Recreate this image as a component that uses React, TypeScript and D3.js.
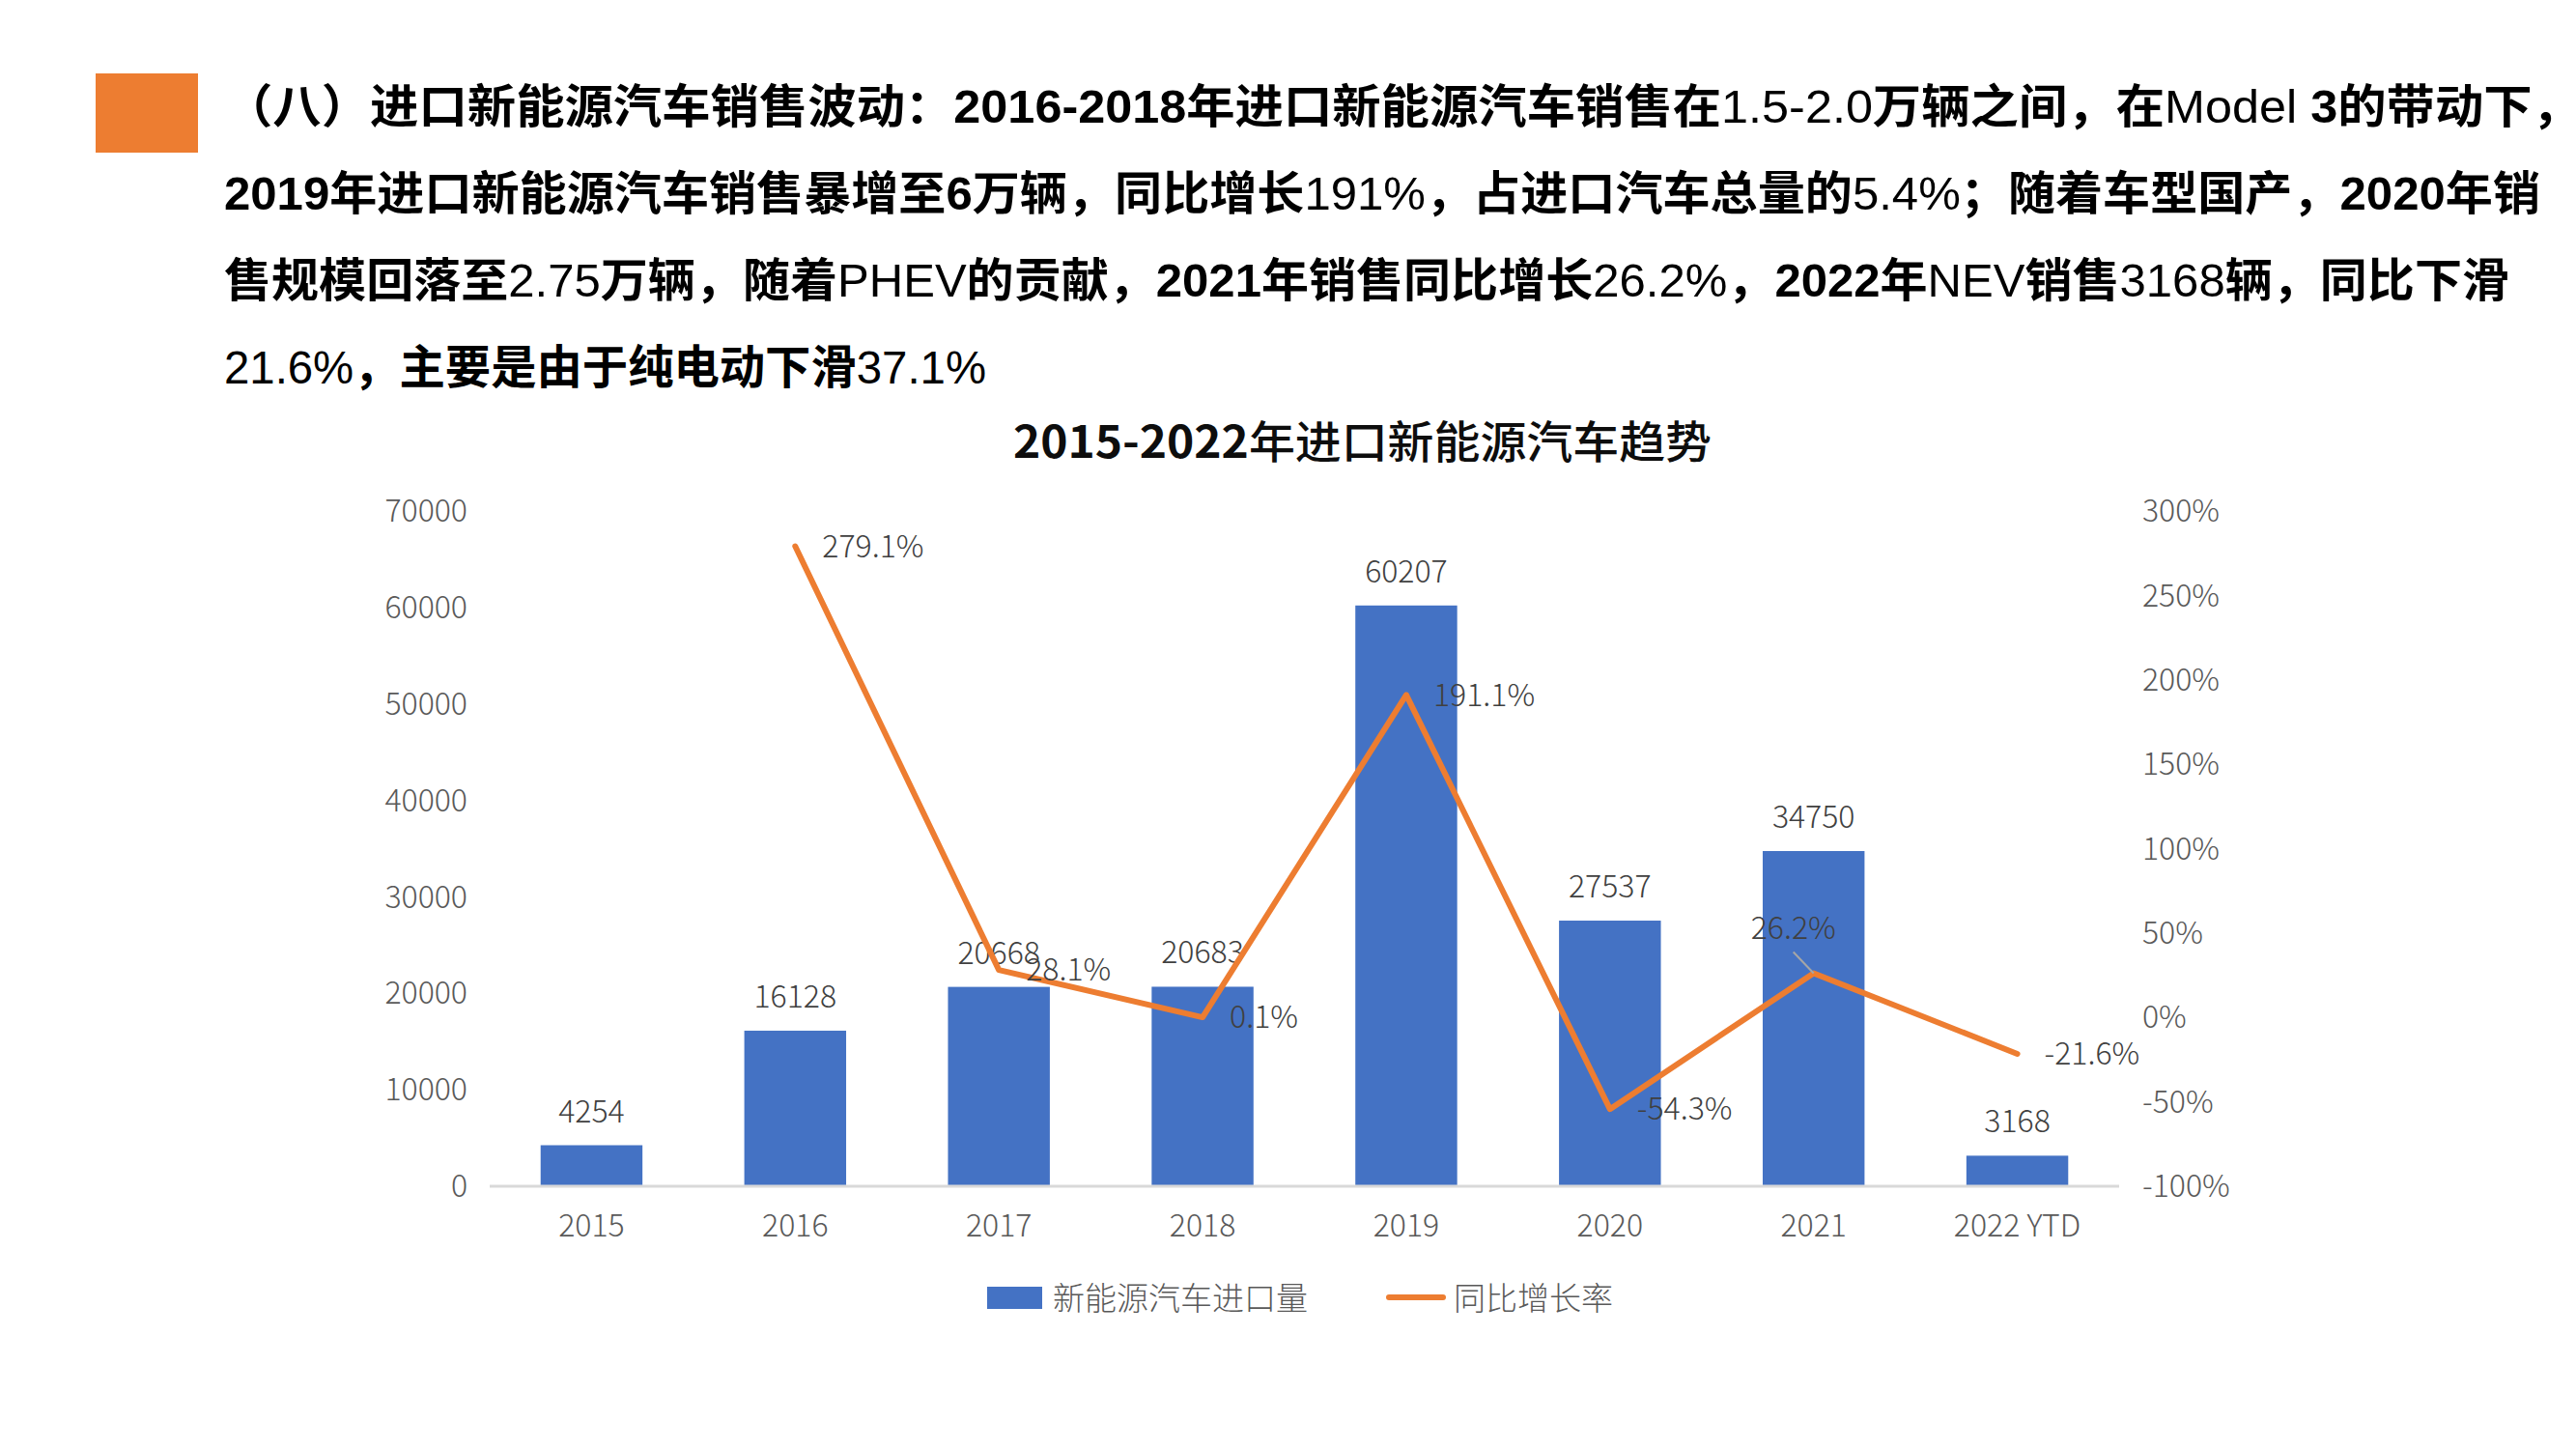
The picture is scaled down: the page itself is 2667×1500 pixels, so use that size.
import React from "react";
import * as d3 from "d3";

// chart data
const categories = ["2015", "2016", "2017", "2018", "2019", "2020", "2021", "2022 YTD"];
const importVolume = [4254, 16128, 20668, 20683, 60207, 27537, 34750, 3168];
const growthRate = [null, 2.791, 0.281, 0.001, 1.911, -0.543, 0.262, -0.216];
const leftTicks = [0, 10000, 20000, 30000, 40000, 50000, 60000, 70000];
const rightTicks = [-1, -0.5, 0, 0.5, 1, 1.5, 2, 2.5, 3];

const seriesNames = ["新能源汽车进口量", "同比增长率"];
const chartTitle = ["2015-2022", "年进口新能源汽车趋势"];

// header paragraph, [text, bold]
const bodyLines: [string, boolean][][] = [
  [["（八）进口新能源汽车销售波动：", true], ["2016-2018", true], ["年进口新能源汽车销售在", true], ["1.5-2.0", false], ["万辆之间，在", true], ["Model ", false], ["3", true], ["的带动下，", true]],
  [["2019年进口新能源汽车销售暴增至6万辆，同比增长", true], ["191%", false], ["，占进口汽车总量的", true], ["5.4%", false], ["；随着车型国产，2020年销", true]],
  [["售规模回落至", true], ["2.75", false], ["万辆，随着", true], ["PHEV", false], ["的贡献，2021年销售同比增长", true], ["26.2%", false], ["，2022年", true], ["NEV", false], ["销售", true], ["3168", false], ["辆，同比下滑", true]],
  [["21.6%", false], ["，主要是由于纯电动下滑", true], ["37.1%", false]],
];
const bodyLineWidths = [2440, 2398, 2366, 789];

const BLUE = "#4472C4";
const ORANGE = "#ED7D31";
const GRAY = "#595959";
const LABEL = "#404040";
const chartFont = "'Noto Sans CJK SC', 'Liberation Sans', sans-serif";

const locale = d3.formatLocale({ decimal: ".", thousands: ",", grouping: [3], currency: ["", ""], minus: "-" });
const pct1 = locale.format(".1%");
const pct0 = locale.format(".0%");
const intFmt = locale.format("d");

export default function App() {
  const W = 2667;
  const H = 1500;

  const x = d3.scaleBand<string>().domain(categories).range([507, 2194]).paddingInner(0.5).paddingOuter(0.25);
  const yL = d3.scaleLinear().domain([0, 70000]).range([1228, 529]);
  const yR = d3.scaleLinear().domain([-1, 3]).range([1228, 529]);
  const cx = (c: string) => (x(c) ?? 0) + x.bandwidth() / 2;

  const points = categories.map((c, i) => ({ c, v: growthRate[i] }));
  const line = d3
    .line<{ c: string; v: number | null }>()
    .defined((d) => d.v != null)
    .x((d) => cx(d.c))
    .y((d) => yR(d.v as number));

  return (
    <svg
      width={W}
      height={H}
      style={{ position: "absolute", left: 0, top: 0, display: "block", background: "#fff" }}
    >
      {/* header */}
      <rect x={99} y={76} width={106} height={82} fill={ORANGE} />
      {bodyLines.map((segs, li) => (
        <text
          key={li}
          x={232}
          y={127 + li * 90}
          fontSize={48}
          fill="#000"
          fontFamily="'Liberation Sans', 'Noto Sans CJK SC', sans-serif"
          textLength={bodyLineWidths[li]}
          lengthAdjust="spacingAndGlyphs"
        >
          {segs.map(([t, b], si) => (
            <tspan key={si} fontWeight={b ? 700 : 400}>
              {t}
            </tspan>
          ))}
        </text>
      ))}

      {/* chart title */}
      <text
        x={1049}
        y={474}
        fontSize={46}
        fill="#0d0d0d"
        fontFamily={chartFont}
        textLength={723}
        lengthAdjust="spacingAndGlyphs"
      >
        <tspan fontWeight={700}>{chartTitle[0]}</tspan>
        <tspan fontWeight={500}>{chartTitle[1]}</tspan>
      </text>

      <g fontFamily={chartFont} fontSize={32}>
        {/* left axis */}
        {leftTicks.map((t) => (
          <text key={t} x={484} y={yL(t)} dy="0.35em" textAnchor="end" fill={GRAY} fontWeight={300}>
            {intFmt(t)}
          </text>
        ))}
        {/* right axis */}
        {rightTicks.map((t) => (
          <text key={t} x={2218} y={yR(t)} dy="0.35em" textAnchor="start" fill={GRAY} fontWeight={300}>
            {pct0(t)}
          </text>
        ))}

        {/* bars */}
        {categories.map((c, i) => (
          <rect
            key={c}
            x={x(c)}
            y={yL(importVolume[i])}
            width={x.bandwidth()}
            height={yL(0) - yL(importVolume[i])}
            fill={BLUE}
          />
        ))}
        {/* baseline */}
        <line x1={x.range()[0]} x2={x.range()[1]} y1={yL(0)} y2={yL(0)} stroke="#D9D9D9" strokeWidth={3} />

        {/* category labels */}
        {categories.map((c) => (
          <text key={c} x={cx(c)} y={1280} textAnchor="middle" fill={GRAY} fontWeight={300}>
            {c}
          </text>
        ))}

        {/* bar value labels */}
        {categories.map((c, i) => (
          <text key={c} x={cx(c)} y={yL(importVolume[i]) - 24} textAnchor="middle" fill={LABEL} fontWeight={300}>
            {intFmt(importVolume[i])}
          </text>
        ))}

        {/* growth line */}
        <path d={line(points) ?? ""} fill="none" stroke={ORANGE} strokeWidth={6} strokeLinejoin="round" strokeLinecap="round" />

        {/* growth labels */}
        {points.map((p) => {
          if (p.v == null) return null;
          const px = cx(p.c);
          const py = yR(p.v);
          if (p.c === "2021") {
            return (
              <g key={p.c}>
                <line x1={px - 21} y1={py - 22} x2={px} y2={py} stroke="#A6A6A6" strokeWidth={2} />
                <text x={px - 21} y={py - 47} dy="0.35em" textAnchor="middle" fill={LABEL} fontWeight={300}>
                  {pct1(p.v)}
                </text>
              </g>
            );
          }
          return (
            <text key={p.c} x={px + 28} y={py} dy="0.35em" fill={LABEL} fontWeight={300}>
              {pct1(p.v)}
            </text>
          );
        })}

        {/* legend */}
        <g fontSize={33} fill={GRAY} fontWeight={300}>
          <rect x={1022} y={1332} width={57} height={23} fill={BLUE} />
          <text x={1090} y={1344} dy="0.35em">{seriesNames[0]}</text>
          <line x1={1438} x2={1494} y1={1343} y2={1343} stroke={ORANGE} strokeWidth={6} strokeLinecap="round" />
          <text x={1505} y={1344} dy="0.35em">{seriesNames[1]}</text>
        </g>
      </g>
    </svg>
  );
}
